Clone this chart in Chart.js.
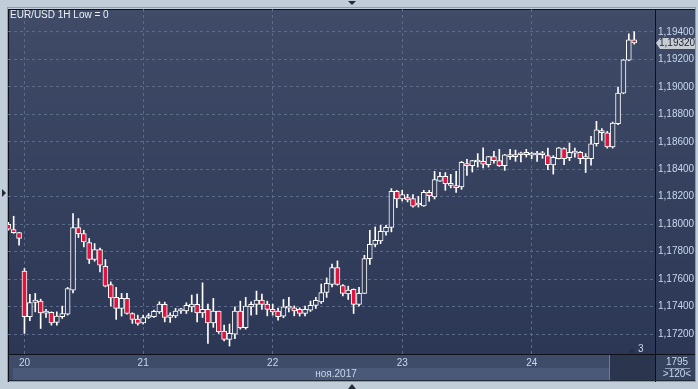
<!DOCTYPE html>
<html>
<head>
<meta charset="utf-8">
<script src="https://cdn.jsdelivr.net/npm/chart.js@4.4.0/dist/chart.umd.min.js"></script>
<style>
  html, body { margin: 0; padding: 0; background: #c2cdda; }
  canvas { display: block; }
</style>
</head>
<body>
<canvas id="chart" width="698" height="389"></canvas>
<script>
// EUR/USD hourly candles, 19-24 Nov 2017
const opens = [
  1.18000, 1.17961, 1.17939, 1.17658, 1.17326, 1.17430, 1.17440, 1.17353, 1.17358, 1.17285,
  1.17326, 1.17345, 1.17520, 1.17976, 1.17932, 1.17867, 1.17743, 1.17816, 1.17694, 1.17561,
  1.17467, 1.17387, 1.17460, 1.17350, 1.17309, 1.17282, 1.17321, 1.17326, 1.17362, 1.17416,
  1.17321, 1.17333, 1.17369, 1.17369, 1.17398, 1.17416, 1.17355, 1.17380, 1.17282, 1.17367,
  1.17222, 1.17161, 1.17200, 1.17367, 1.17246, 1.17398, 1.17416, 1.17447, 1.17418, 1.17380,
  1.17367, 1.17331, 1.17389, 1.17391, 1.17380, 1.17350, 1.17374, 1.17409, 1.17435, 1.17503,
  1.17561, 1.17685, 1.17554, 1.17493, 1.17525, 1.17416, 1.17496, 1.17750, 1.17852, 1.17878,
  1.17944, 1.17976, 1.18240, 1.18184, 1.18194, 1.18187, 1.18140, 1.18133, 1.18232, 1.18198,
  1.18314, 1.18349, 1.18283, 1.18281, 1.18271, 1.18441, 1.18426, 1.18453, 1.18458, 1.18434,
  1.18492, 1.18463, 1.18426, 1.18506, 1.18492, 1.18506, 1.18523, 1.18503, 1.18504, 1.18506,
  1.18499, 1.18431, 1.18477, 1.18550, 1.18485, 1.18518, 1.18523, 1.18477, 1.18477, 1.18586,
  1.18681, 1.18666, 1.18562, 1.18732, 1.18954, 1.19195, 1.19342
];
const highs = [
  1.18014, 1.18058, 1.17941, 1.17678, 1.17489, 1.17496, 1.17454, 1.17380, 1.17362, 1.17362,
  1.17404, 1.17540, 1.18077, 1.18041, 1.17956, 1.17896, 1.17859, 1.17827, 1.17743, 1.17580,
  1.17540, 1.17496, 1.17496, 1.17355, 1.17338, 1.17338, 1.17350, 1.17374, 1.17435, 1.17433,
  1.17355, 1.17387, 1.17387, 1.17428, 1.17484, 1.17491, 1.17573, 1.17418, 1.17460, 1.17367,
  1.17265, 1.17273, 1.17398, 1.17440, 1.17467, 1.17435, 1.17513, 1.17491, 1.17440, 1.17418,
  1.17389, 1.17452, 1.17467, 1.17405, 1.17391, 1.17404, 1.17440, 1.17467, 1.17564, 1.17609,
  1.17709, 1.17733, 1.17561, 1.17549, 1.17529, 1.17540, 1.17774, 1.17956, 1.17980, 1.17992,
  1.17992, 1.18259, 1.18247, 1.18247, 1.18218, 1.18216, 1.18203, 1.18247, 1.18247, 1.18385,
  1.18378, 1.18376, 1.18363, 1.18385, 1.18458, 1.18472, 1.18465, 1.18514, 1.18557, 1.18494,
  1.18530, 1.18545, 1.18509, 1.18545, 1.18540, 1.18525, 1.18545, 1.18525, 1.18530, 1.18530,
  1.18554, 1.18499, 1.18560, 1.18557, 1.18591, 1.18554, 1.18530, 1.18514, 1.18639, 1.18749,
  1.18696, 1.18676, 1.18744, 1.18998, 1.19199, 1.19386, 1.19402
];
const lows = [
  1.17956, 1.17934, 1.17847, 1.17205, 1.17297, 1.17362, 1.17241, 1.17321, 1.17265, 1.17265,
  1.17314, 1.17338, 1.17500, 1.17903, 1.17835, 1.17714, 1.17731, 1.17653, 1.17544, 1.17404,
  1.17307, 1.17331, 1.17345, 1.17278, 1.17265, 1.17273, 1.17314, 1.17321, 1.17350, 1.17289,
  1.17285, 1.17319, 1.17350, 1.17350, 1.17362, 1.17289, 1.17321, 1.17132, 1.17249, 1.17205,
  1.17151, 1.17113, 1.17166, 1.17236, 1.17236, 1.17338, 1.17343, 1.17380, 1.17333, 1.17338,
  1.17302, 1.17319, 1.17362, 1.17333, 1.17331, 1.17333, 1.17365, 1.17387, 1.17423, 1.17467,
  1.17544, 1.17556, 1.17478, 1.17452, 1.17350, 1.17404, 1.17496, 1.17707, 1.17835, 1.17859,
  1.17920, 1.17944, 1.18121, 1.18169, 1.18162, 1.18125, 1.18125, 1.18130, 1.18167, 1.18184,
  1.18312, 1.18247, 1.18264, 1.18232, 1.18254, 1.18356, 1.18380, 1.18416, 1.18409, 1.18416,
  1.18445, 1.18421, 1.18392, 1.18472, 1.18458, 1.18453, 1.18489, 1.18477, 1.18458, 1.18480,
  1.18397, 1.18365, 1.18475, 1.18434, 1.18463, 1.18489, 1.18441, 1.18376, 1.18429, 1.18569,
  1.18610, 1.18554, 1.18554, 1.18725, 1.18950, 1.19190, 1.19311
];
const closes = [
  1.17963, 1.17939, 1.17896, 1.17326, 1.17430, 1.17447, 1.17355, 1.17362, 1.17282, 1.17331,
  1.17350, 1.17532, 1.17976, 1.17932, 1.17871, 1.17743, 1.17816, 1.17702, 1.17549, 1.17464,
  1.17387, 1.17460, 1.17350, 1.17307, 1.17278, 1.17321, 1.17331, 1.17365, 1.17418, 1.17321,
  1.17338, 1.17367, 1.17380, 1.17409, 1.17418, 1.17355, 1.17380, 1.17282, 1.17367, 1.17217,
  1.17161, 1.17205, 1.17367, 1.17246, 1.17404, 1.17416, 1.17447, 1.17416, 1.17380, 1.17362,
  1.17326, 1.17398, 1.17398, 1.17369, 1.17350, 1.17380, 1.17409, 1.17445, 1.17503, 1.17569,
  1.17685, 1.17561, 1.17496, 1.17520, 1.17416, 1.17496, 1.17750, 1.17854, 1.17883, 1.17949,
  1.17978, 1.18240, 1.18184, 1.18216, 1.18176, 1.18131, 1.18143, 1.18232, 1.18208, 1.18325,
  1.18349, 1.18296, 1.18291, 1.18266, 1.18450, 1.18426, 1.18463, 1.18463, 1.18438, 1.18492,
  1.18463, 1.18426, 1.18506, 1.18492, 1.18506, 1.18518, 1.18506, 1.18509, 1.18506, 1.18506,
  1.18434, 1.18487, 1.18557, 1.18477, 1.18523, 1.18523, 1.18477, 1.18480, 1.18586, 1.18688,
  1.18666, 1.18562, 1.18736, 1.18954, 1.19197, 1.19342, 1.19320
];

// x axis: candle index where each day starts, and its label
const dayTickIndex = [3, 25, 49, 73, 97];
const dayLabels = ["20", "21", "22", "23", "24"];
const priceTicks = [1.172, 1.174, 1.176, 1.178, 1.180, 1.182, 1.184, 1.186, 1.188, 1.190, 1.192, 1.194];

const chartTitle = "EUR/USD 1H Low = 0";
const monthLabel = "ноя.2017";
const barCountLabel = "1795";
const zoomLabel = ">120<";
const markerLabel = "3";

const FONT = "'Liberation Sans', Arial, sans-serif";
const TEXT = "#c9d7ee";
const GRID = "#5b6a89";
const RED = "#e0143c";
const BG_TOP = "#3f4b67";
const BG_BOTTOM = "#2c3755";

function panelGradient(chart) {
  const a = chart.chartArea;
  const g = chart.ctx.createLinearGradient(0, a.top, 0, a.bottom);
  g.addColorStop(0, BG_TOP);
  g.addColorStop(1, BG_BOTTOM);
  return g;
}

const wickData = lows.map((l, i) => ({ x: i, y: [l, highs[i]] }));
const bodyData = opens.map((o, i) => ({
  x: i,
  y: [Math.min(o, closes[i]), Math.max(o, closes[i])],
}));

// Terminal-style frame, bottom panels, title and markers
const terminalFrame = {
  id: "terminalFrame",
  beforeDraw(chart) {
    const ctx = chart.ctx;
    const a = chart.chartArea;
    const W = chart.width;
    ctx.save();
    ctx.fillStyle = "#c2cdda";
    ctx.fillRect(0, 0, W, chart.height);
    ctx.strokeStyle = "#8e9aad";
    ctx.strokeRect(7.5, 7.5, 688, 374);

    // plot + price panel
    ctx.fillStyle = panelGradient(chart);
    ctx.fillRect(a.left, a.top, 695 - a.left, a.bottom - a.top);

    // bottom time panel
    ctx.fillStyle = "#3f4c69";
    ctx.fillRect(a.left, a.bottom, 610 - a.left, 26);
    ctx.fillStyle = "#4a5977";
    ctx.fillRect(13, a.bottom + 14, 597, 12);
    ctx.fillStyle = "#2b354d";
    ctx.fillRect(610, a.bottom, a.right - 610, 26);
    ctx.fillStyle = "#6f7d98";
    ctx.fillRect(609, a.bottom + 1, 1, 25);
    ctx.fillStyle = "#36435f";
    ctx.fillRect(a.right, a.bottom, 695 - a.right, 26);

    // dark separators
    ctx.fillStyle = "#0e1118";
    ctx.fillRect(a.left, a.top, 695 - a.left, 1);
    ctx.fillRect(a.left, a.top, 1, 373);
    ctx.fillRect(a.right, a.top, 1, 373);
    ctx.fillRect(a.left, a.bottom, 695 - a.left, 1);
    ctx.fillStyle = "#222a3a";
    ctx.fillRect(a.left, 380, 695 - a.left, 1);
    ctx.restore();
  },
  afterDraw(chart) {
    const ctx = chart.ctx;
    const yScale = chart.scales.y;
    ctx.save();

    // title
    ctx.font = "10px " + FONT;
    ctx.fillStyle = "#eef2f8";
    ctx.textBaseline = "middle";
    ctx.textAlign = "left";
    ctx.fillText(chartTitle, 10, 15);

    // month label
    ctx.fillStyle = TEXT;
    ctx.textAlign = "center";
    ctx.fillText(monthLabel, 336, 374);

    // bar counter box
    ctx.fillText(barCountLabel, 677, 362);
    ctx.fillText(zoomLabel, 677, 374);
    ctx.fillStyle = "#8d9ab2";
    ctx.fillRect(665, 368, 25, 1);

    // last price tag
    const last = closes[closes.length - 1];
    const py = Math.round(yScale.getPixelForValue(last));
    ctx.fillStyle = "#c8ccd3";
    ctx.beginPath();
    ctx.moveTo(656, py);
    ctx.lineTo(660, py - 5);
    ctx.lineTo(695, py - 5);
    ctx.lineTo(695, py + 6);
    ctx.lineTo(660, py + 6);
    ctx.closePath();
    ctx.fill();
    ctx.fillStyle = "#1b2233";
    ctx.textAlign = "left";
    ctx.fillText(last.toFixed(5).replace(".", ","), 659, py + 0.5);

    // shift marker
    ctx.fillStyle = "#26304a";
    ctx.beginPath();
    ctx.moveTo(628, 353);
    ctx.lineTo(632, 348);
    ctx.lineTo(636, 353);
    ctx.closePath();
    ctx.fill();
    ctx.fillStyle = TEXT;
    ctx.fillText(markerLabel, 638, 349);

    // scroll arrows on the frame
    ctx.fillStyle = "#232a38";
    ctx.beginPath();
    ctx.moveTo(348, 1); ctx.lineTo(356, 1); ctx.lineTo(352, 5); ctx.closePath();
    ctx.fill();
    ctx.beginPath();
    ctx.moveTo(348, 389); ctx.lineTo(356, 389); ctx.lineTo(352, 384); ctx.closePath();
    ctx.fill();
    ctx.beginPath();
    ctx.moveTo(2, 189); ctx.lineTo(6, 193); ctx.lineTo(2, 197); ctx.closePath();
    ctx.fill();
    ctx.restore();
  },
};

new Chart(document.getElementById("chart"), {
  type: "bar",
  data: {
    datasets: [
      {
        label: "Body",
        data: bodyData,
        grouped: false,
        order: 0,
        barThickness: 5,
        minBarLength: 2,
        borderWidth: 1,
        borderSkipped: false,
        borderColor: "#ffffff",
        backgroundColor: (c) => {
          const i = c.dataIndex;
          if (closes[i] < opens[i]) return RED;
          return c.chart.chartArea ? panelGradient(c.chart) : BG_TOP;
        },
      },
      {
        label: "Wick",
        data: wickData,
        grouped: false,
        order: 1,
        barThickness: 1,
        borderWidth: 0,
        backgroundColor: "#ffffff",
      },
    ],
  },
  options: {
    responsive: false,
    animation: false,
    devicePixelRatio: 1,
    layout: { padding: { left: 8, top: 8, right: 3, bottom: 9 } },
    plugins: {
      legend: { display: false },
      tooltip: { enabled: false },
    },
    scales: {
      x: {
        type: "linear",
        offset: false,
        min: -0.05,
        max: 119.85,
        afterBuildTicks: (s) => {
          s.ticks = dayTickIndex.map((v) => ({ value: v }));
        },
        afterFit: (s) => {
          s.height = 26;
        },
        grid: { color: GRID, drawTicks: false, offset: false },
        border: { display: false, dash: [3, 3] },
        ticks: {
          autoSkip: false,
          maxRotation: 0,
          padding: 3,
          color: TEXT,
          font: { family: FONT, size: 10 },
          callback: (v) => dayLabels[dayTickIndex.indexOf(v)],
        },
      },
      y: {
        position: "right",
        min: 1.17055,
        max: 1.19567,
        afterBuildTicks: (s) => {
          s.ticks = priceTicks.map((v) => ({ value: v }));
        },
        afterFit: (s) => {
          s.width = 40;
        },
        grid: { color: GRID, drawTicks: false },
        border: { display: false, dash: [3, 3] },
        ticks: {
          padding: 3,
          color: TEXT,
          font: { family: FONT, size: 10 },
          callback: (v) => v.toFixed(5).replace(".", ","),
        },
      },
    },
  },
  plugins: [terminalFrame],
});
</script>
</body>
</html>
